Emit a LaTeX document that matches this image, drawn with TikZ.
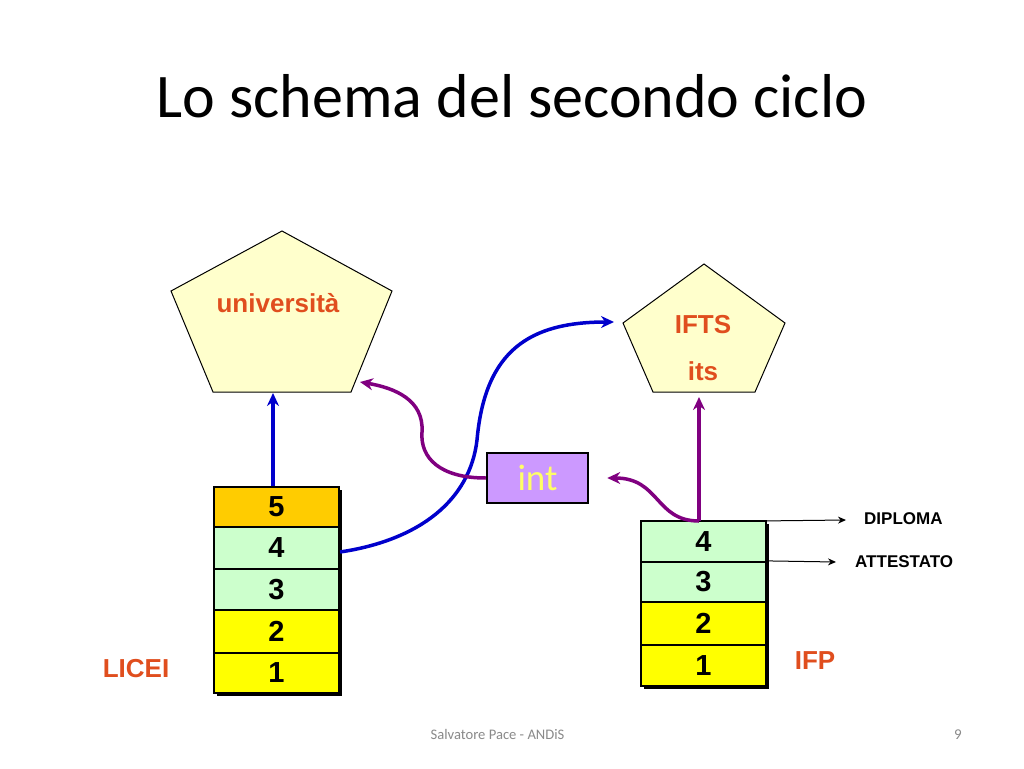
\documentclass[tikz,border=0pt]{standalone}
\usepackage{fontspec}
\setmainfont{Liberation Sans}
\newfontfamily\carlito{Carlito}
\usetikzlibrary{arrows.meta}
\definecolor{penfill}{HTML}{FFFFCC}
\definecolor{labred}{RGB}{224,78,30}
\definecolor{cellorange}{HTML}{FFCC00}
\definecolor{cellgreen}{HTML}{CCFFCC}
\definecolor{cellyellow}{HTML}{FFFF00}
\definecolor{intfill}{HTML}{CC99FF}
\definecolor{inttext}{HTML}{FFFF66}
\definecolor{bluearr}{RGB}{0,0,204}
\definecolor{purparr}{RGB}{128,0,128}
\definecolor{footgray}{HTML}{8A8A8A}
\tikzset{
  pent/.style={fill=penfill,draw=black,line width=1pt},
  cell/.style={draw=black,line width=2.2pt,minimum width=125pt,inner sep=0pt,font=\fontsize{29}{32}\selectfont\bfseries},
  lab/.style={text=labred,font=\fontsize{26}{30}\selectfont\bfseries,inner sep=0pt},
  small/.style={font=\fontsize{17}{20}\selectfont\bfseries,inner sep=0pt,anchor=west},
  barrow/.style={draw=bluearr,line width=3.5pt,-{Stealth[length=13pt,width=12pt]}},
  parrow/.style={draw=purparr,line width=3.5pt,-{Stealth[length=13pt,width=12pt]}},
  thinarrow/.style={draw=black,line width=1pt,-{Stealth[length=8pt,width=7pt]}},
}
\begin{document}
\begin{tikzpicture}[x=1pt,y=-1pt]
\useasboundingbox[fill=white] (0,0) rectangle (1024,768);
% title
\node[anchor=base,inner sep=0pt,font=\carlito\fontsize{62}{70}\selectfont] (title) at (512,117) {Lo schema del secondo ciclo};
% pentagons
\draw[pent] (282,231) -- (392,291) -- (351,392) -- (213,392) -- (171,291) -- cycle;
\node[lab] (univ) at (278,303) {università};
\coordinate (ubot) at (273,393);
\coordinate (ubr) at (360,382);
\draw[pent] (704,264) -- (785,323) -- (755,392) -- (653,392) -- (623,323) -- cycle;
\node[lab] (ifts) at (703,325) {IFTS};
\node[lab] (its) at (703,371) {its};
\coordinate (ileft) at (614,322);
\coordinate (ibot) at (699,397);
% left stack shadow
\fill[black] (217,490) rectangle (342,696);
\node[cell,fill=cellorange,minimum height=40pt] (L5) at (276.5,507) {5};
\node[cell,fill=cellgreen,minimum height=42pt] (L4) at (276.5,548) {4};
\node[cell,fill=cellgreen,minimum height=41pt] (L3) at (276.5,589.5) {3};
\node[cell,fill=cellyellow,minimum height=43pt] (L2) at (276.5,631.5) {2};
\node[cell,fill=cellyellow,minimum height=40pt] (L1) at (276.5,673) {1};
\node[lab] (licei) at (136,669) {LICEI};
% right stack shadow
\fill[black] (644,524) rectangle (769,689);
\node[cell,fill=cellgreen,minimum height=41pt] (R4) at (703.5,541.5) {4};
\node[cell,fill=cellgreen,minimum height=40pt] (R3) at (703.5,582) {3};
\node[cell,fill=cellyellow,minimum height=43pt] (R2) at (703.5,623.5) {2};
\node[cell,fill=cellyellow,minimum height=41pt] (R1) at (703.5,665.5) {1};
\node[lab] (ifp) at (815,661) {IFP};
% int box
\node[draw=black,line width=2.5pt,fill=intfill,minimum width=101pt,minimum height=50pt,inner sep=0pt,text=inttext,font=\carlito\fontsize{37}{40}\selectfont] (int) at (537.5,478) {int};
% labels right
\node[small] (dipl) at (864,519) {DIPLOMA};
\node[small] (att) at (855,562) {ATTESTATO};
\coordinate (dtip) at (846,520);
\coordinate (atip) at (836,562);
% arrows
\draw[barrow] ([xshift=-3.5pt]L5.north) -- (ubot);
\draw[barrow] ([yshift=-4pt]L4.east) .. controls (420,540) and (470,500) .. (477,440)
   .. controls (485,350) and (530,322) .. (ileft);
\draw[parrow] (int.west) .. controls (440,478) and (420,458) .. (422,432)
   .. controls (424,400) and (395,388) .. (ubr);
\coordinate (rtop) at (699,521);
\draw[parrow] (rtop) -- (ibot);
\draw[parrow] (rtop) .. controls (655,521) and (660,478) .. ([xshift=18pt]int.east);
\draw[thinarrow] ([yshift=-1pt]R4.north east) -- (dtip);
\draw[thinarrow] (R3.north east) -- (atip);
% footer
\node[anchor=base,inner sep=0pt,text=footgray,font=\carlito\fontsize{14.6}{18}\selectfont] (foot) at (497.5,739) {Salvatore Pace - ANDiS};
\node[anchor=base,inner sep=0pt,text=footgray,font=\carlito\fontsize{15}{18}\selectfont] (page) at (958,739) {9};
\end{tikzpicture}
\end{document}
